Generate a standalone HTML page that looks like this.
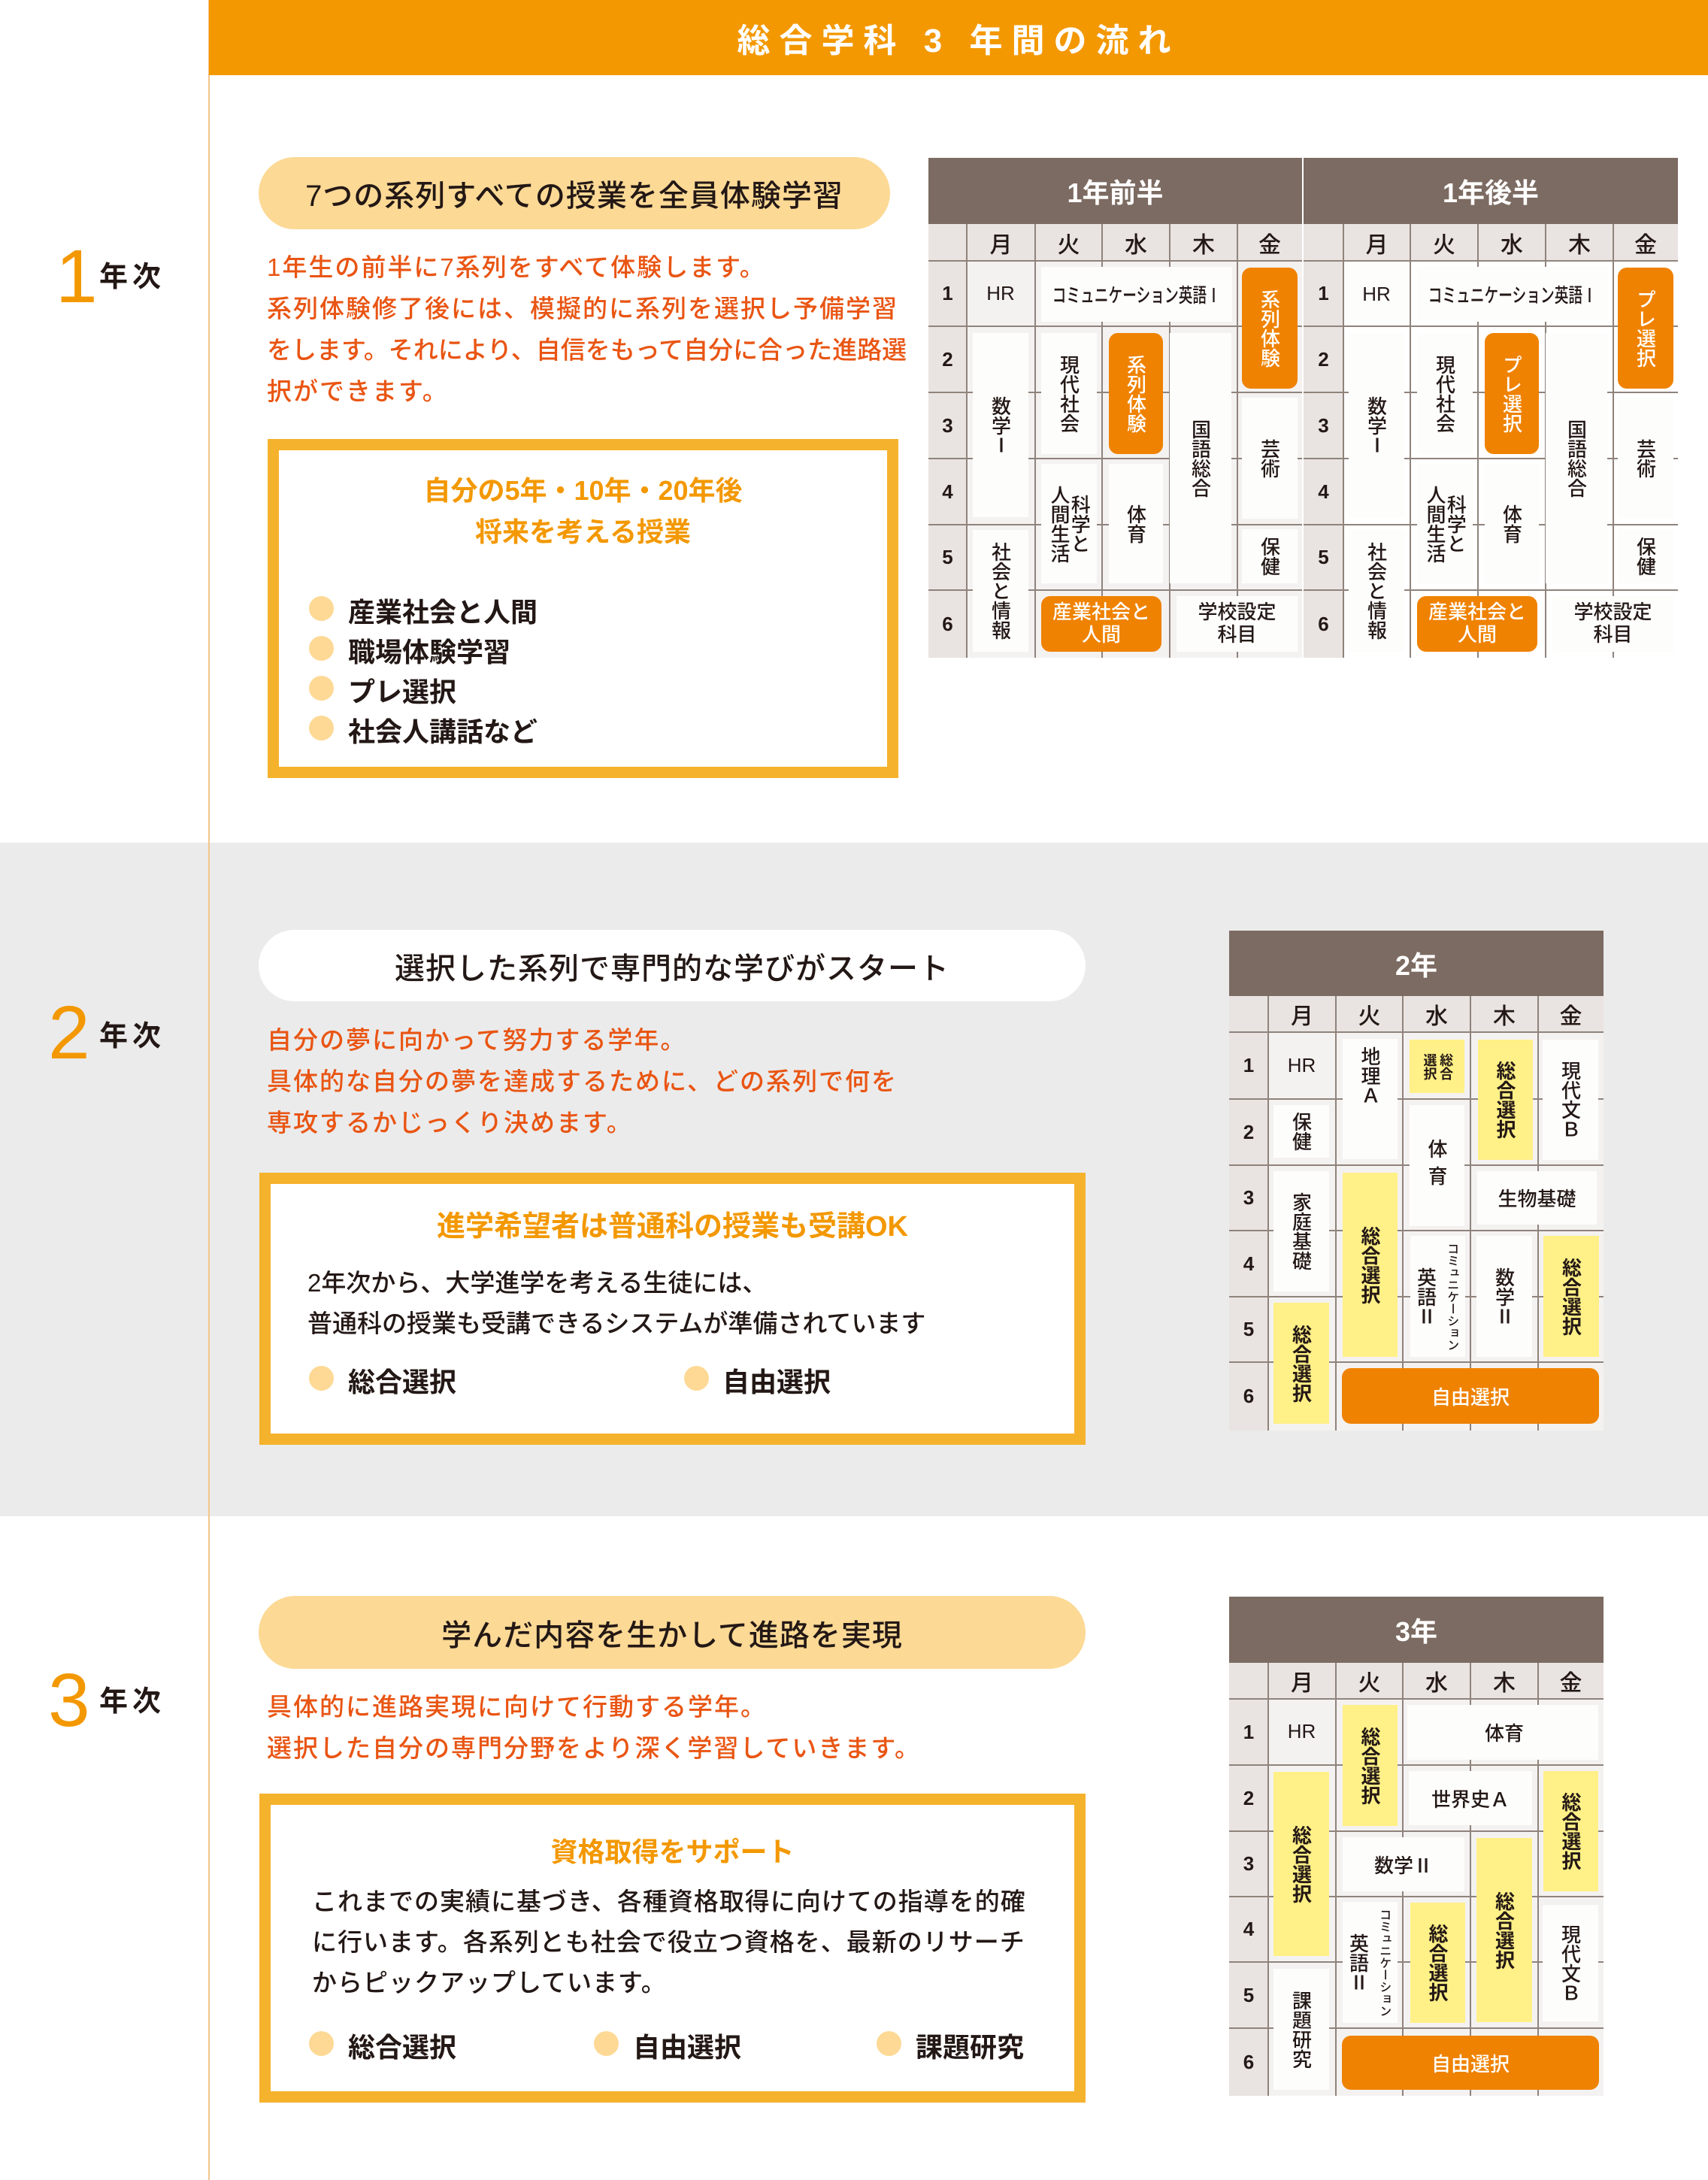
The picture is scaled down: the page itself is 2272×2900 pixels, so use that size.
<!DOCTYPE html>
<html><head><meta charset="utf-8">
<style>
body{margin:0;width:2272px;height:2900px;position:relative;background:#fff;font-family:"Liberation Sans","Noto Sans CJK JP",sans-serif;color:#231815;overflow:hidden}
.a{position:absolute}
.c{display:flex;align-items:center;justify-content:center;text-align:center}
.v{writing-mode:vertical-rl;text-orientation:upright;text-align:center}
.hd{background:#7c6b62;color:#fff;font-weight:bold;font-size:36px}
.dr{background:#e9e4e1}
.hl{height:2px;background:#8f837c}
.vl{width:2px;background:#8f837c}
.day{font-size:30px;font-weight:500}
.pn{font-size:26px;font-weight:bold}
.w{background:#fdfdfc;font-size:26px;font-weight:500}
.o{background:#ef8200;color:#fff;border-radius:12px;font-size:26px;font-weight:500}
.y{background:#fff087;font-size:26px;font-weight:bold}
.t{font-size:26px;font-weight:500}
.pill{border-radius:50px;font-size:40px;font-weight:500;letter-spacing:1px}
.para{color:#e95513;font-size:33px;font-weight:500;letter-spacing:2px;line-height:55px;white-space:nowrap}
.box{box-sizing:border-box;border:15px solid #f5b22c;background:#fff}
.bt{color:#f39800;font-weight:bold;font-size:36px}
.dot{width:33px;height:33px;border-radius:50%;background:#fdd995}
.li{font-size:36px;font-weight:bold}
.num{color:#f39800;font-size:100px;line-height:1}
.nen{font-size:38px;font-weight:bold;letter-spacing:6px}
</style></head><body>

<!-- backgrounds -->
<div class="a" style="left:0;top:1121px;width:2272px;height:896px;background:#ebebeb"></div>
<div class="a" style="left:277px;top:0;width:2px;height:2900px;background:#f3c58a"></div>
<div class="a c" style="left:278px;top:0;width:1994px;height:100px;background:#f39800;color:#fff;font-size:44px;font-weight:bold;letter-spacing:12px">総合学科 3 年間の流れ</div>

<!-- Section 1 -->
<div class="a num" style="left:74px;top:318px">1</div>
<div class="a nen" style="left:132px;top:337px">年次</div>
<div class="a pill c" style="left:344px;top:209px;width:840px;height:96px;background:#fcd995">7つの系列すべての授業を全員体験学習</div>
<div class="a para" style="left:355px;top:328px">1年生の前半に7系列をすべて体験します。<br>系列体験修了後には、模擬的に系列を選択し予備学習<br><span style="letter-spacing:0px">をします。それにより、自信をもって自分に合った進路選</span><br>択ができます。</div>
<div class="a box" style="left:356px;top:584px;width:839px;height:451px"></div>
<div class="a bt c" style="left:356px;top:625px;width:839px;height:50px">自分の5年・10年・20年後</div>
<div class="a bt c" style="left:356px;top:680px;width:839px;height:50px">将来を考える授業</div>
<div class="a dot" style="left:411px;top:793px"></div><div class="a li" style="left:463px;top:786px">産業社会と人間</div>
<div class="a dot" style="left:411px;top:846px"></div><div class="a li" style="left:463px;top:839px">職場体験学習</div>
<div class="a dot" style="left:411px;top:899px"></div><div class="a li" style="left:463px;top:892px">プレ選択</div>
<div class="a dot" style="left:411px;top:952px"></div><div class="a li" style="left:463px;top:945px">社会人講話など</div>

<!-- Table 1 left -->
<div class="a hd c" style="left:1235px;top:210px;width:497px;height:88px">1年前半</div>
<div class="a dr" style="left:1235px;top:298px;width:497px;height:49px"></div>
<div class="a dr" style="left:1235px;top:347px;width:51px;height:528px"></div>
<div class="a" style="left:1286px;top:347px;width:446px;height:528px;background:#f4f2f1"></div>
<div class="a vl" style="left:1285px;top:298px;height:577px"></div>
<div class="a vl" style="left:1376px;top:298px;height:577px"></div>
<div class="a vl" style="left:1465px;top:298px;height:577px"></div>
<div class="a vl" style="left:1555px;top:298px;height:577px"></div>
<div class="a vl" style="left:1645px;top:298px;height:577px"></div>
<div class="a hl" style="left:1235px;top:346px;width:497px"></div>
<div class="a hl" style="left:1235px;top:433px;width:497px"></div>
<div class="a hl" style="left:1235px;top:521px;width:497px"></div>
<div class="a hl" style="left:1235px;top:609px;width:497px"></div>
<div class="a hl" style="left:1235px;top:697px;width:497px"></div>
<div class="a hl" style="left:1235px;top:784px;width:497px"></div>
<div class="a day c" style="left:1286px;top:298px;width:91px;height:49px">月</div>
<div class="a day c" style="left:1377px;top:298px;width:89px;height:49px">火</div>
<div class="a day c" style="left:1466px;top:298px;width:90px;height:49px">水</div>
<div class="a day c" style="left:1556px;top:298px;width:90px;height:49px">木</div>
<div class="a day c" style="left:1646px;top:298px;width:86px;height:49px">金</div>
<div class="a pn c" style="left:1235px;top:347px;width:51px;height:87px">1</div>
<div class="a pn c" style="left:1235px;top:434px;width:51px;height:88px">2</div>
<div class="a pn c" style="left:1235px;top:522px;width:51px;height:88px">3</div>
<div class="a pn c" style="left:1235px;top:610px;width:51px;height:88px">4</div>
<div class="a pn c" style="left:1235px;top:698px;width:51px;height:87px">5</div>
<div class="a pn c" style="left:1235px;top:785px;width:51px;height:90px">6</div>
<div class="a t c" style="left:1286px;top:347px;width:90px;height:86px">HR</div>
<div class="a w c" style="left:1385px;top:355px;width:254px;height:73px"><span style="display:inline-block;transform:scaleX(0.72);white-space:nowrap">コミュニケーション英語Ⅰ</span></div>
<div class="a o c" style="left:1652px;top:356px;width:74px;height:161px"><span class="v">系列体験</span></div>
<div class="a w c" style="left:1294px;top:443px;width:74px;height:245px"><span class="v">数学Ⅰ</span></div>
<div class="a w c" style="left:1385px;top:443px;width:74px;height:161px"><span class="v">現代社会</span></div>
<div class="a o c" style="left:1475px;top:443px;width:72px;height:161px"><span class="v">系列体験</span></div>
<div class="a w c" style="left:1556px;top:443px;width:82px;height:333px"><span class="v">国語総合</span></div>
<div class="a w c" style="left:1652px;top:529px;width:74px;height:161px"><span class="v">芸術</span></div>
<div class="a w c" style="left:1385px;top:617px;width:74px;height:159px"><span class="v" style="line-height:1.05">科学と<br>人間生活</span></div>
<div class="a w c" style="left:1475px;top:617px;width:72px;height:159px"><span class="v">体育</span></div>
<div class="a w c" style="left:1294px;top:705px;width:74px;height:162px"><span class="v">社会と情報</span></div>
<div class="a w c" style="left:1652px;top:704px;width:74px;height:72px"><span class="v">保健</span></div>
<div class="a o c" style="left:1385px;top:793px;width:160px;height:74px;line-height:1.15">産業社会と<br>人間</div>
<div class="a w c" style="left:1565px;top:793px;width:161px;height:74px;line-height:1.15">学校設定<br>科目</div>

<!-- Table 1 right -->
<div class="a hd c" style="left:1734px;top:210px;width:498px;height:88px">1年後半</div>
<div class="a dr" style="left:1734px;top:298px;width:498px;height:49px"></div>
<div class="a dr" style="left:1734px;top:347px;width:53px;height:528px"></div>
<div class="a vl" style="left:1786px;top:298px;height:577px"></div>
<div class="a vl" style="left:1875px;top:298px;height:577px"></div>
<div class="a vl" style="left:1965px;top:298px;height:577px"></div>
<div class="a vl" style="left:2055px;top:298px;height:577px"></div>
<div class="a vl" style="left:2145px;top:298px;height:577px"></div>
<div class="a hl" style="left:1734px;top:346px;width:498px"></div>
<div class="a hl" style="left:1734px;top:433px;width:498px"></div>
<div class="a hl" style="left:1734px;top:521px;width:498px"></div>
<div class="a hl" style="left:1734px;top:609px;width:498px"></div>
<div class="a hl" style="left:1734px;top:697px;width:498px"></div>
<div class="a hl" style="left:1734px;top:784px;width:498px"></div>
<div class="a day c" style="left:1787px;top:298px;width:89px;height:49px">月</div>
<div class="a day c" style="left:1876px;top:298px;width:90px;height:49px">火</div>
<div class="a day c" style="left:1966px;top:298px;width:90px;height:49px">水</div>
<div class="a day c" style="left:2056px;top:298px;width:90px;height:49px">木</div>
<div class="a day c" style="left:2146px;top:298px;width:86px;height:49px">金</div>
<div class="a pn c" style="left:1734px;top:347px;width:53px;height:87px">1</div>
<div class="a pn c" style="left:1734px;top:434px;width:53px;height:88px">2</div>
<div class="a pn c" style="left:1734px;top:522px;width:53px;height:88px">3</div>
<div class="a pn c" style="left:1734px;top:610px;width:53px;height:88px">4</div>
<div class="a pn c" style="left:1734px;top:698px;width:53px;height:87px">5</div>
<div class="a pn c" style="left:1734px;top:785px;width:53px;height:90px">6</div>
<div class="a w c" style="left:1788px;top:349px;width:86px;height:84px">HR</div>
<div class="a w c" style="left:1885px;top:355px;width:254px;height:73px"><span style="display:inline-block;transform:scaleX(0.72);white-space:nowrap">コミュニケーション英語Ⅰ</span></div>
<div class="a o c" style="left:2152px;top:356px;width:74px;height:161px"><span class="v">プレ選択</span></div>
<div class="a w c" style="left:1794px;top:443px;width:74px;height:245px"><span class="v">数学Ⅰ</span></div>
<div class="a w c" style="left:1885px;top:443px;width:74px;height:161px"><span class="v">現代社会</span></div>
<div class="a o c" style="left:1975px;top:443px;width:72px;height:161px"><span class="v">プレ選択</span></div>
<div class="a w c" style="left:2056px;top:443px;width:82px;height:333px"><span class="v">国語総合</span></div>
<div class="a w c" style="left:2152px;top:529px;width:74px;height:161px"><span class="v">芸術</span></div>
<div class="a w c" style="left:1885px;top:617px;width:74px;height:159px"><span class="v" style="line-height:1.05">科学と<br>人間生活</span></div>
<div class="a w c" style="left:1975px;top:617px;width:72px;height:159px"><span class="v">体育</span></div>
<div class="a w c" style="left:1794px;top:705px;width:74px;height:162px"><span class="v">社会と情報</span></div>
<div class="a w c" style="left:2152px;top:704px;width:74px;height:72px"><span class="v">保健</span></div>
<div class="a o c" style="left:1885px;top:793px;width:160px;height:74px;line-height:1.15">産業社会と<br>人間</div>
<div class="a w c" style="left:2065px;top:793px;width:161px;height:74px;line-height:1.15">学校設定<br>科目</div>

<!-- Section 2 -->
<div class="a num" style="left:64px;top:1324px">2</div>
<div class="a nen" style="left:132px;top:1347px">年次</div>
<div class="a pill c" style="left:344px;top:1237px;width:1100px;height:95px;background:#fff">選択した系列で専門的な学びがスタート</div>
<div class="a para" style="left:355px;top:1356px">自分の夢に向かって努力する学年。<br>具体的な自分の夢を達成するために、どの系列で何を<br>専攻するかじっくり決めます。</div>
<div class="a box" style="left:345px;top:1560px;width:1099px;height:362px"></div>
<div class="a bt c" style="left:345px;top:1602px;width:1099px;height:50px;font-size:38px">進学希望者は普通科の授業も受講OK</div>
<div class="a" style="left:409px;top:1680px;font-size:33px;font-weight:500;line-height:54px;white-space:nowrap">2年次から、大学進学を考える生徒には、<br>普通科の授業も受講できるシステムが準備されています</div>
<div class="a dot" style="left:411px;top:1817px"></div><div class="a li" style="left:463px;top:1810px">総合選択</div>
<div class="a dot" style="left:910px;top:1817px"></div><div class="a li" style="left:961px;top:1810px">自由選択</div>

<!-- Table 2 -->
<div class="a hd c" style="left:1635px;top:1238px;width:498px;height:87px">2年</div>
<div class="a dr" style="left:1635px;top:1325px;width:498px;height:48px"></div>
<div class="a dr" style="left:1635px;top:1373px;width:52px;height:530px"></div>
<div class="a" style="left:1687px;top:1373px;width:446px;height:530px;background:#f4f2f1"></div>
<div class="a vl" style="left:1686px;top:1325px;height:578px"></div>
<div class="a vl" style="left:1776px;top:1325px;height:578px"></div>
<div class="a vl" style="left:1865px;top:1325px;height:578px"></div>
<div class="a vl" style="left:1955px;top:1325px;height:578px"></div>
<div class="a vl" style="left:2045px;top:1325px;height:578px"></div>
<div class="a hl" style="left:1635px;top:1372px;width:498px"></div>
<div class="a hl" style="left:1635px;top:1461px;width:498px"></div>
<div class="a hl" style="left:1635px;top:1549px;width:498px"></div>
<div class="a hl" style="left:1635px;top:1636px;width:498px"></div>
<div class="a hl" style="left:1635px;top:1724px;width:498px"></div>
<div class="a hl" style="left:1635px;top:1811px;width:498px"></div>
<div class="a day c" style="left:1687px;top:1325px;width:90px;height:48px">月</div>
<div class="a day c" style="left:1777px;top:1325px;width:89px;height:48px">火</div>
<div class="a day c" style="left:1866px;top:1325px;width:90px;height:48px">水</div>
<div class="a day c" style="left:1956px;top:1325px;width:90px;height:48px">木</div>
<div class="a day c" style="left:2046px;top:1325px;width:87px;height:48px">金</div>
<div class="a pn c" style="left:1635px;top:1373px;width:52px;height:89px">1</div>
<div class="a pn c" style="left:1635px;top:1462px;width:52px;height:88px">2</div>
<div class="a pn c" style="left:1635px;top:1550px;width:52px;height:87px">3</div>
<div class="a pn c" style="left:1635px;top:1637px;width:52px;height:88px">4</div>
<div class="a pn c" style="left:1635px;top:1725px;width:52px;height:87px">5</div>
<div class="a pn c" style="left:1635px;top:1812px;width:52px;height:91px">6</div>
<div class="a t c" style="left:1687px;top:1373px;width:89px;height:88px">HR</div>
<div class="a w c" style="left:1694px;top:1470px;width:74px;height:70px"><span class="v">保健</span></div>
<div class="a w c" style="left:1694px;top:1558px;width:74px;height:160px"><span class="v">家庭基礎</span></div>
<div class="a y c" style="left:1694px;top:1733px;width:74px;height:161px"><span class="v">総合選択</span></div>
<div class="a w c" style="left:1786px;top:1382px;width:73px;height:160px;align-items:flex-start;padding-top:10px;box-sizing:border-box"><span class="v">地理Ａ</span></div>
<div class="a y c" style="left:1786px;top:1560px;width:73px;height:245px"><span class="v">総合選択</span></div>
<div class="a y c" style="left:1875px;top:1383px;width:73px;height:71px"><span class="v" style="font-size:18px;line-height:1.2">総合<br>選択</span></div>
<div class="a w c" style="left:1875px;top:1470px;width:73px;height:161px"><span class="v" style="letter-spacing:10px">体育</span></div>
<div class="a w c" style="left:1876px;top:1644px;width:73px;height:161px"><span class="v" style="line-height:1.3"><span style="font-size:16px">コミュニケーション</span><br>英語Ⅱ</span></div>
<div class="a y c" style="left:1966px;top:1383px;width:73px;height:160px"><span class="v">総合選択</span></div>
<div class="a w c" style="left:2052px;top:1383px;width:74px;height:160px"><span class="v">現代文Ｂ</span></div>
<div class="a w c" style="left:1965px;top:1558px;width:159px;height:71px">生物基礎</div>
<div class="a w c" style="left:1964px;top:1644px;width:74px;height:161px"><span class="v">数学Ⅱ</span></div>
<div class="a y c" style="left:2053px;top:1644px;width:74px;height:161px"><span class="v">総合選択</span></div>
<div class="a o c" style="left:1785px;top:1820px;width:342px;height:74px">自由選択</div>

<!-- Section 3 -->
<div class="a num" style="left:64px;top:2212px">3</div>
<div class="a nen" style="left:132px;top:2232px">年次</div>
<div class="a pill c" style="left:344px;top:2123px;width:1100px;height:97px;background:#fcd995">学んだ内容を生かして進路を実現</div>
<div class="a para" style="left:355px;top:2243px">具体的に進路実現に向けて行動する学年。<br>選択した自分の専門分野をより深く学習していきます。</div>
<div class="a box" style="left:345px;top:2386px;width:1099px;height:411px"></div>
<div class="a bt c" style="left:345px;top:2436px;width:1099px;height:50px">資格取得をサポート</div>
<div class="a" style="left:415px;top:2503px;font-size:33px;font-weight:500;line-height:54px;letter-spacing:1px;white-space:nowrap">これまでの実績に基づき、各種資格取得に向けての指導を的確<br>に行います。各系列とも社会で役立つ資格を、最新のリサーチ<br>からピックアップしています。</div>
<div class="a dot" style="left:411px;top:2702px"></div><div class="a li" style="left:463px;top:2695px">総合選択</div>
<div class="a dot" style="left:790px;top:2702px"></div><div class="a li" style="left:842px;top:2695px">自由選択</div>
<div class="a dot" style="left:1166px;top:2702px"></div><div class="a li" style="left:1218px;top:2695px">課題研究</div>

<!-- Table 3 -->
<div class="a hd c" style="left:1635px;top:2124px;width:498px;height:88px">3年</div>
<div class="a dr" style="left:1635px;top:2212px;width:498px;height:48px"></div>
<div class="a dr" style="left:1635px;top:2260px;width:52px;height:528px"></div>
<div class="a" style="left:1687px;top:2260px;width:446px;height:528px;background:#f4f2f1"></div>
<div class="a vl" style="left:1686px;top:2212px;height:576px"></div>
<div class="a vl" style="left:1776px;top:2212px;height:576px"></div>
<div class="a vl" style="left:1865px;top:2212px;height:576px"></div>
<div class="a vl" style="left:1955px;top:2212px;height:576px"></div>
<div class="a vl" style="left:2045px;top:2212px;height:576px"></div>
<div class="a hl" style="left:1635px;top:2259px;width:498px"></div>
<div class="a hl" style="left:1635px;top:2347px;width:498px"></div>
<div class="a hl" style="left:1635px;top:2435px;width:498px"></div>
<div class="a hl" style="left:1635px;top:2522px;width:498px"></div>
<div class="a hl" style="left:1635px;top:2609px;width:498px"></div>
<div class="a hl" style="left:1635px;top:2697px;width:498px"></div>
<div class="a day c" style="left:1687px;top:2212px;width:90px;height:48px">月</div>
<div class="a day c" style="left:1777px;top:2212px;width:89px;height:48px">火</div>
<div class="a day c" style="left:1866px;top:2212px;width:90px;height:48px">水</div>
<div class="a day c" style="left:1956px;top:2212px;width:90px;height:48px">木</div>
<div class="a day c" style="left:2046px;top:2212px;width:87px;height:48px">金</div>
<div class="a pn c" style="left:1635px;top:2260px;width:52px;height:88px">1</div>
<div class="a pn c" style="left:1635px;top:2348px;width:52px;height:88px">2</div>
<div class="a pn c" style="left:1635px;top:2436px;width:52px;height:87px">3</div>
<div class="a pn c" style="left:1635px;top:2523px;width:52px;height:87px">4</div>
<div class="a pn c" style="left:1635px;top:2610px;width:52px;height:88px">5</div>
<div class="a pn c" style="left:1635px;top:2698px;width:52px;height:90px">6</div>
<div class="a t c" style="left:1687px;top:2260px;width:89px;height:87px">HR</div>
<div class="a y c" style="left:1786px;top:2268px;width:73px;height:161px"><span class="v">総合選択</span></div>
<div class="a w" style="left:1872px;top:2268px;width:254px;height:73px"></div>
<div class="a t c" style="left:1956px;top:2268px;width:90px;height:73px">体育</div>
<div class="a y c" style="left:1694px;top:2357px;width:74px;height:245px"><span class="v">総合選択</span></div>
<div class="a w c" style="left:1874px;top:2356px;width:164px;height:72px">世界史Ａ</div>
<div class="a y c" style="left:2053px;top:2356px;width:73px;height:160px"><span class="v">総合選択</span></div>
<div class="a w c" style="left:1786px;top:2444px;width:162px;height:72px">数学Ⅱ</div>
<div class="a y c" style="left:1964px;top:2445px;width:74px;height:245px"><span class="v">総合選択</span></div>
<div class="a w c" style="left:1786px;top:2530px;width:73px;height:161px"><span class="v" style="line-height:1.3"><span style="font-size:16px">コミュニケーション</span><br>英語Ⅱ</span></div>
<div class="a y c" style="left:1876px;top:2531px;width:73px;height:160px"><span class="v">総合選択</span></div>
<div class="a w c" style="left:2052px;top:2534px;width:74px;height:155px"><span class="v">現代文Ｂ</span></div>
<div class="a w c" style="left:1694px;top:2619px;width:74px;height:161px"><span class="v">課題研究</span></div>
<div class="a o c" style="left:1785px;top:2708px;width:342px;height:72px">自由選択</div>

</body></html>
